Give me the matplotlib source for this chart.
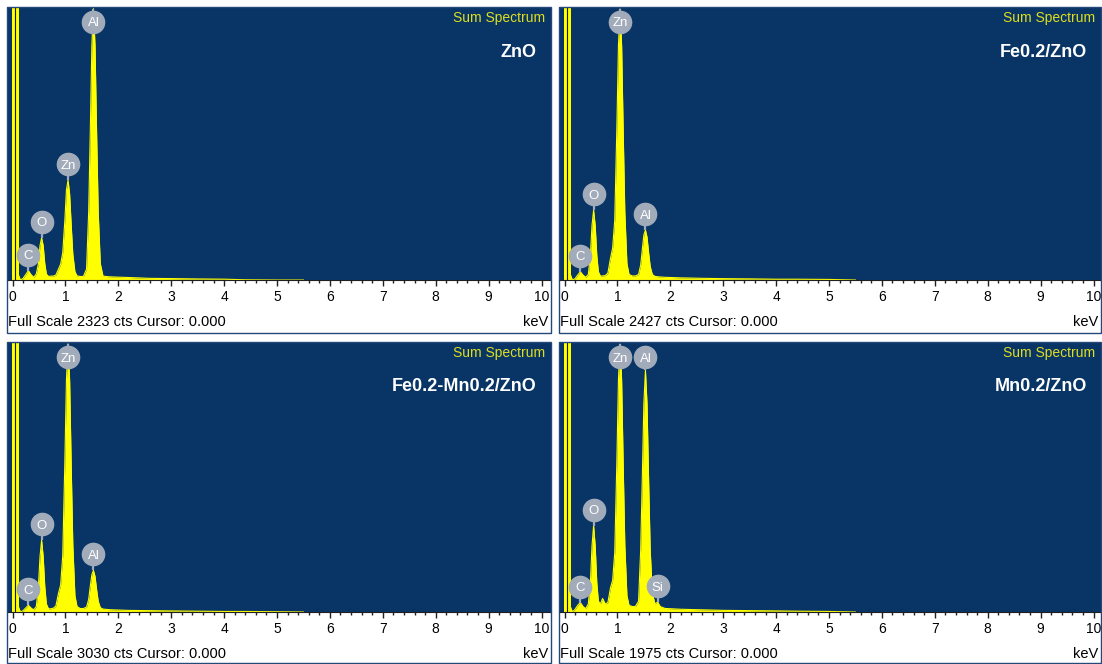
import numpy as np
import matplotlib.pyplot as plt
from matplotlib.patches import Rectangle
from matplotlib.ticker import MultipleLocator

plt.rcParams['font.family'] = ['Liberation Sans', 'DejaVu Sans']

# energy grid shared by the four spectra (keV)
kev = [0.11, 0.15, 0.20, 0.25, 0.30, 0.35, 0.40, 0.45, 0.49, 0.52,
       0.55, 0.58, 0.61, 0.64, 0.68, 0.72, 0.77, 0.82, 0.87, 0.91,
       0.95, 0.99, 1.02, 1.05, 1.08, 1.11, 1.14, 1.18, 1.22, 1.28,
       1.34, 1.40, 1.44, 1.47, 1.50, 1.53, 1.56, 1.59, 1.62, 1.66,
       1.71, 1.76, 1.81, 1.90, 2.20, 2.60, 3.00, 3.50, 4.00, 4.40,
       5.00, 5.50]

# counts per channel
cts_zno = [46, 0, 14, 46, 79, 46, 23, 51, 139, 293,
           358, 293, 139, 51, 30, 33, 33, 42, 93, 135,
           232, 511, 767, 850, 729, 465, 221, 70, 35, 30,
           30, 93, 581, 1254, 1991, 2310, 1991, 1254, 581, 139,
           35, 30, 28, 26, 21, 14, 12, 9, 7, 2,
           0, 0]
cts_fe = [49, 0, 12, 44, 73, 44, 24, 49, 223, 485,
          621, 485, 223, 73, 34, 36, 39, 61, 194, 284,
          534, 1359, 2087, 2410, 2080, 1311, 607, 146, 49, 36,
          36, 49, 133, 267, 400, 444, 381, 243, 121, 49,
          32, 29, 27, 24, 19, 15, 12, 10, 7, 7,
          5, 0]
cts_femn = [61, 0, 15, 45, 76, 45, 24, 61, 288, 621,
            806, 621, 288, 91, 36, 36, 42, 67, 212, 303,
            636, 1697, 2606, 3010, 2597, 1636, 758, 182, 61, 39,
            39, 55, 142, 288, 418, 467, 400, 251, 121, 48,
            33, 30, 27, 24, 18, 15, 12, 9, 6, 6,
            3, 0]
cts_mn = [40, 0, 20, 49, 69, 40, 24, 59, 217, 484,
          632, 484, 217, 79, 59, 99, 59, 69, 178, 231,
          435, 1106, 1699, 1960, 1693, 1067, 494, 119, 49, 40,
          40, 79, 454, 968, 1521, 1768, 1521, 968, 454, 138,
          59, 73, 40, 26, 20, 16, 12, 10, 8, 6,
          4, 0]

samples = ['ZnO', 'Fe0.2/ZnO', 'Fe0.2-Mn0.2/ZnO', 'Mn0.2/ZnO']
full_scale = [2323, 2427, 3030, 1975]
spectra = [cts_zno, cts_fe, cts_femn, cts_mn]
cursor = 0.0

# peak identification labels (element, keV)
lines_base = [('C', 0.30), ('O', 0.55), ('Zn', 1.05), ('Al', 1.53)]
peak_labels = [lines_base, lines_base, lines_base, lines_base + [('Si', 1.76)]]

# off-scale zero strobe peak
strobe = (-0.005, 0.12)
strobe_mid = 0.05

BLUE = '#083566'
YEL = '#ffff00'
GREY = '#a2abba'
W, H = 1102, 664
PXK = 52.9  # pixels per keV

# (left, top, right, plot bottom, panel bottom) in pixels
panels = [(7, 7, 551, 280, 333), (559, 7, 1101, 280, 333),
          (7, 342, 551, 612, 663), (559, 342, 1101, 612, 663)]

fig = plt.figure(figsize=(W / 100, H / 100), dpi=100)
fig.patch.set_facecolor('white')

for i, (l, t, r, b, fb) in enumerate(panels):
    fs = full_scale[i]
    counts = spectra[i]
    ax = fig.add_axes([l / W, 1 - b / H, (r - l) / W, (b - t) / H])
    ax.set_facecolor(BLUE)
    ax.set_xlim(-5.5 / PXK, (r - l - 5.5) / PXK)
    ax.set_ylim(0, fs)

    ax.axvspan(*strobe, color=YEL, lw=0)
    ax.axvline(strobe_mid, color='#1a1a1a', lw=0.8)
    ax.fill_between(kev, counts, color=YEL, lw=0)
    ax.plot(kev, counts, color=YEL, lw=0.8)

    # element markers
    dpp = fs / (b - t)
    for el, e in peak_labels[i]:
        y = np.interp(e, kev, counts)
        ly = min(y + 16 * dpp, fs - 15 * dpp)
        ax.plot([e, e], [y, ly], color=GREY, lw=1.6, solid_capstyle='butt')
        ax.plot(e, ly, 'o', ms=16, mfc=GREY, mec=GREY)
        ax.text(e, ly, el, ha='center', va='center_baseline', color='white', fontsize=9.5)

    ax.text(0.989, 0.96, 'Sum Spectrum', transform=ax.transAxes, ha='right', va='center',
            color='#dede1e', fontsize=10)
    ax.text(0.974, 0.835, samples[i], transform=ax.transAxes, ha='right', va='center',
            color='white', fontsize=13, fontweight='bold')

    ax.xaxis.set_major_locator(MultipleLocator(1))
    ax.xaxis.set_minor_locator(MultipleLocator(0.2))
    ax.tick_params(axis='x', which='major', length=4.5, width=1, color='#202020',
                   pad=3, labelsize=10)
    ax.tick_params(axis='x', which='minor', length=2.5, width=1, color='#202020')
    ax.set_yticks([])
    for s in ['top', 'left', 'right']:
        ax.spines[s].set_visible(False)
    ax.spines['bottom'].set_color('#202020')
    ax.spines['bottom'].set_linewidth(0.8)

    fig.text((l + 1) / W, 1 - (b + 42) / H,
             f'Full Scale {fs} cts Cursor: {cursor:.3f}', ha='left', va='center', fontsize=10.5)
    fig.text((r - 3) / W, 1 - (b + 42) / H, 'keV', ha='right', va='center', fontsize=10.5)

    fig.patches.append(Rectangle((l / W, 1 - fb / H), (r - l) / W, (fb - t) / H,
                                 transform=fig.transFigure, fill=False,
                                 ec='#24487a', lw=1))

fig.savefig('out.png', dpi=100)
